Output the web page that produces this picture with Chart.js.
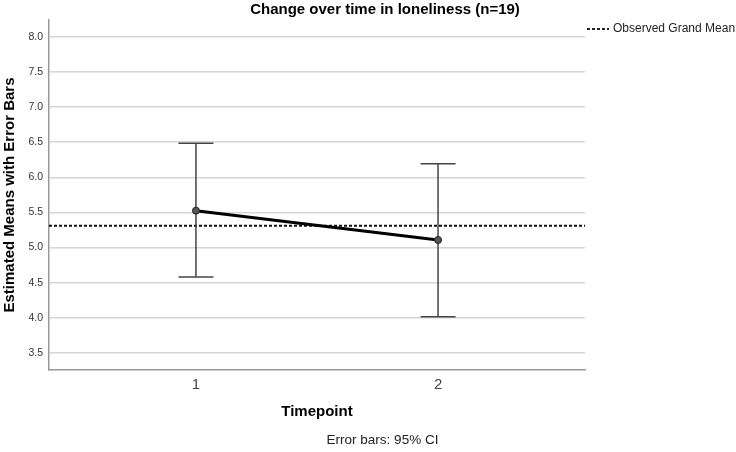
<!DOCTYPE html>
<html>
<head>
<meta charset="utf-8">
<title>Change over time in loneliness</title>
<script src="https://cdn.jsdelivr.net/npm/chart.js@4.4.1/dist/chart.umd.min.js"></script>
<style>
  html, body { margin: 0; padding: 0; background: #fff; }
  canvas { display: block; }
</style>
</head>
<body>
<canvas id="chart" width="736" height="452"></canvas>
<script>
// Estimated means per timepoint, with 95% CI
const timepoints = [1, 2];
const means = [5.525, 5.108];
const ciLow = [4.582, 4.017];
const ciHigh = [6.484, 6.193];
const grandMean = 5.312;
const yTicks = [3.5, 4.0, 4.5, 5.0, 5.5, 6.0, 6.5, 7.0, 7.5, 8.0];

const FONT = "'Liberation Sans', Arial, sans-serif";
const X_MIN = 0.393;
const X_MAX = 2.607;

// One dataset per error bar, caps drawn as 'line' point style
const errorBars = timepoints.map((t, i) => ({
  data: [{ x: t, y: ciLow[i] }, { x: t, y: ciHigh[i] }],
  showLine: true,
  borderColor: '#444',
  borderWidth: 1.5,
  pointStyle: 'line',
  pointRadius: 17.5,
  pointBorderWidth: 1.5,
  pointBorderColor: '#444',
}));

// Title, legend and footnote
const textPlugin = {
  id: 'texts',
  afterDraw(chart) {
    const { ctx } = chart;
    ctx.save();
    ctx.fillStyle = '#000';
    ctx.textBaseline = 'middle';
    ctx.textAlign = 'center';
    ctx.font = `bold 15px ${FONT}`;
    ctx.fillText('Change over time in loneliness (n=19)', 385, 10);

    ctx.font = `13.5px ${FONT}`;
    ctx.fillStyle = '#222';
    ctx.fillText('Error bars: 95% CI', 382.5, 440);

    // legend sample
    ctx.strokeStyle = '#222';
    ctx.lineWidth = 2;
    ctx.setLineDash([3, 2]);
    ctx.beginPath();
    ctx.moveTo(587, 29);
    ctx.lineTo(609, 29);
    ctx.stroke();
    ctx.setLineDash([]);
    ctx.textAlign = 'left';
    ctx.font = `12px ${FONT}`;
    ctx.fillText('Observed Grand Mean', 613, 29);
    ctx.restore();
  },
};

const chart = new Chart(document.getElementById('chart'), {
  type: 'scatter',
  data: {
    datasets: [
      {
        data: timepoints.map((t, i) => ({ x: t, y: means[i] })),
        showLine: true,
        borderColor: '#000',
        borderWidth: 3,
        pointRadius: 3.5,
        pointBackgroundColor: '#555',
        pointBorderColor: '#222',
        pointBorderWidth: 1,
      },
      ...errorBars,
      {
        data: [{ x: X_MIN, y: grandMean }, { x: X_MAX, y: grandMean }],
        showLine: true,
        borderColor: '#111',
        borderWidth: 2,
        borderDash: [3, 2],
        pointRadius: 0,
      },
    ],
  },
  options: {
    responsive: false,
    animation: false,
    events: [],
    devicePixelRatio: 1,
    layout: { padding: { top: 20, right: 151, bottom: 27, left: 0 } },
    plugins: {
      legend: { display: false },
      tooltip: { enabled: false },
    },
    scales: {
      x: {
        type: 'linear',
        min: X_MIN,
        max: X_MAX,
        afterBuildTicks: (scale) => { scale.ticks = timepoints.map(v => ({ value: v })); },
        afterFit: (scale) => { scale.height = 55; },
        ticks: {
          padding: 6,
          color: '#444',
          font: { family: FONT, size: 15 },
          callback: v => String(v),
        },
        grid: { display: false, drawTicks: false },
        border: { display: true, color: '#999', width: 1.5 },
        title: {
          display: true,
          text: 'Timepoint',
          color: '#000',
          font: { family: FONT, size: 15, weight: 'bold' },
          padding: { top: 0, bottom: 4 },
        },
      },
      y: {
        min: 3.258,
        max: 8.238,
        afterBuildTicks: (scale) => { scale.ticks = yTicks.map(v => ({ value: v })); },
        afterFit: (scale) => { scale.width = 49; },
        ticks: {
          padding: 6,
          color: '#333',
          font: { family: FONT, size: 10.5 },
          callback: v => v.toFixed(1),
        },
        grid: { color: '#d6d6d6', lineWidth: 1.5, drawTicks: false },
        border: { display: true, color: '#999', width: 1.5 },
        title: {
          display: true,
          text: 'Estimated Means with Error Bars',
          color: '#000',
          font: { family: FONT, size: 15, weight: 'bold' },
          padding: { top: 1, bottom: 0 },
        },
      },
    },
  },
  plugins: [textPlugin],
});
</script>
</body>
</html>
